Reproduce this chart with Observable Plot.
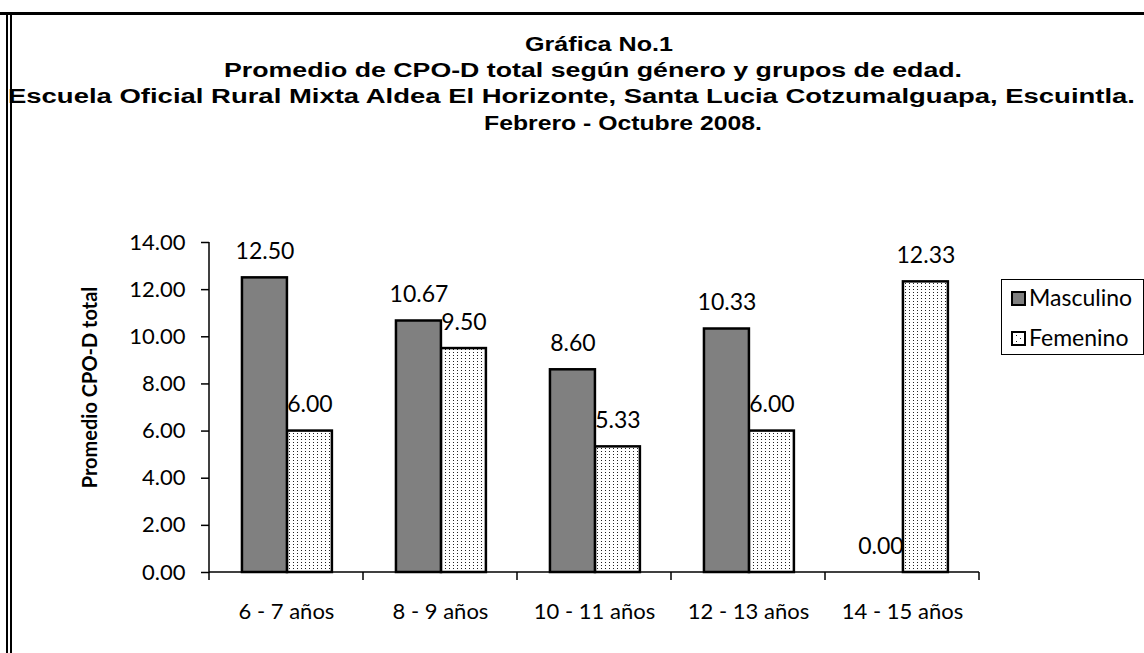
<!DOCTYPE html>
<html>
<head>
<meta charset="utf-8">
<script src="https://cdn.jsdelivr.net/npm/d3@7"></script>
<script src="https://cdn.jsdelivr.net/npm/@observablehq/plot@0.6"></script>
<style>
  html, body { margin: 0; padding: 0; background: #fff; }
  #wrap { position: relative; width: 1144px; height: 653px; overflow: hidden; background: #fff; }
  #titles { position: relative; height: 180px; }
  .tl { position: absolute; white-space: nowrap; font-family: "Liberation Sans", Arial, sans-serif; font-weight: bold; font-size: 20px; line-height: 20px; color: #000; transform-origin: 0 0; }
  #chart { position: absolute; left: 0; top: 180px; }
  .frameTop { position: absolute; left: 0; top: 12px; width: 1144px; height: 3px; background: #000; }
  .frameL1 { position: absolute; left: 6px; top: 12px; width: 2px; height: 641px; background: #000; }
  .frameL2 { position: absolute; left: 10px; top: 12px; width: 2px; height: 641px; background: #000; }
  #legend { position: absolute; left: 1001px; top: 279px; width: 143px; height: 76px; border: 1px solid #000; box-sizing: border-box; font-family: Lato, sans-serif; font-size: 23px; line-height: 23px; }
  .sw { position: absolute; width: 15px; height: 15px; border: 2px solid #000; box-sizing: border-box; }
  .lt { position: absolute; white-space: nowrap; }
</style>
</head>
<body>
<div id="wrap">
  <div id="titles"></div>
  <div id="chart"></div>
  <div class="frameTop"></div>
  <div class="frameL1"></div>
  <div class="frameL2"></div>
  <div id="legend"></div>
</div>
<script>
// ---- Data ----
const titleLines = [
  "Gráfica No.1",
  "Promedio de CPO-D total según género y grupos de edad.",
  "Escuela Oficial Rural Mixta Aldea El Horizonte, Santa Lucia Cotzumalguapa, Escuintla.",
  "Febrero - Octubre 2008."
];
const categories = ["6 - 7 años", "8 - 9 años", "10 - 11 años", "12 - 13 años", "14 - 15 años"];
const series = ["Masculino", "Femenino"];
const masculino = [12.50, 10.67, 8.60, 10.33, 0.00];
const femenino = [6.00, 9.50, 5.33, 6.00, 12.33];
const yTicks = [0, 2, 4, 6, 8, 10, 12, 14];
const yLabel = "Promedio CPO-D total";

// ---- Titles (each line stretched to its extent in the original) ----
const titleLeft = [525, 224, 8, 484];
const titleRight = [673, 962, 1135, 762];
const titleBaselines = [51, 77, 103, 130];
const titlesEl = document.getElementById("titles");
titleLines.forEach((t, i) => {
  const d = document.createElement("div");
  d.className = "tl";
  d.textContent = t;
  d.style.left = titleLeft[i] + "px";
  d.style.top = (titleBaselines[i] - 17) + "px";
  titlesEl.appendChild(d);
  const natural = d.getBoundingClientRect().width;
  const target = titleRight[i] - titleLeft[i];
  d.style.transform = "scaleX(" + (target / natural) + ")";
});

// ---- Table ----
const rowsM = categories.map((c, i) => ({grupo: c, genero: series[0], valor: masculino[i]}));
const rowsF = categories.map((c, i) => ({grupo: c, genero: series[1], valor: femenino[i]}));

const W = 1144, H = 473;
const mL = 209, mR = 165, mT = 62, mB = 81;
const bw = (W - mL - mR) / categories.length;   // band width
const barW = 0.292 * bw;                          // width of one bar
const gStart = 0.214 * bw;                        // left offset of the group in its band
const insM = {insetLeft: gStart, insetRight: bw - gStart - barW};
const insF = {insetLeft: gStart + barW, insetRight: bw - gStart - 2 * barW};
const dxM = gStart + barW / 2 - bw / 2;
const dxF = gStart + 1.5 * barW - bw / 2;

function defsMark() {
  const svg = d3.create("svg:defs");
  const p = svg.append("pattern").attr("id", "dots").attr("patternUnits", "userSpaceOnUse")
    .attr("width", 4).attr("height", 3);
  p.append("rect").attr("width", 4).attr("height", 3).attr("fill", "#fff");
  p.append("rect").attr("x", 1).attr("y", 1).attr("width", 1).attr("height", 1).attr("fill", "#222");
  return svg.node();
}

function axisLines(index, scales) {
  const x = scales.x, y = scales.y;
  const [x0, x1] = x.range();
  const y0 = y(0), yTop = y(yTicks[yTicks.length - 1]);
  const g = d3.create("svg:g").attr("stroke", "#000").attr("stroke-width", 1.5).attr("fill", "none");
  g.append("line").attr("x1", x0).attr("x2", x0).attr("y1", y0 + 0.5).attr("y2", yTop);
  g.append("line").attr("x1", x0).attr("x2", x1).attr("y1", y0).attr("y2", y0);
  const edges = categories.map(c => x(c)).concat([x1]);
  edges.forEach(e => g.append("line").attr("x1", e).attr("x2", e).attr("y1", y0).attr("y2", y0 + 8));
  return g.node();
}

const fmt = d => d.toFixed(2);

const chart = Plot.plot({
  width: W, height: H,
  marginLeft: mL, marginRight: mR, marginTop: mT, marginBottom: mB,
  style: {fontFamily: "Lato, sans-serif", fontSize: "20px", color: "#000", background: "transparent", overflow: "visible"},
  x: {domain: categories, padding: 0},
  y: {domain: [0, 14]},
  marks: [
    defsMark,
    Plot.axisY({ticks: yTicks, tickSize: 8, tickPadding: 16, tickFormat: fmt, label: null, fontSize: 22, strokeWidth: 1.5}),
    Plot.axisX({tickSize: 0, tickPadding: 31, label: null, fontSize: 22}),
    Plot.text([yLabel], {frameAnchor: "left", text: d => d, rotate: -90, textAnchor: "middle", dx: -119, dy: -20, fontWeight: "bold", fontSize: 20}),
    Plot.text(rowsM, {x: "grupo", y: "valor", text: d => fmt(d.valor), dx: dxM, dy: -19, lineAnchor: "bottom", fontSize: 23}),
    Plot.text(rowsF, {x: "grupo", y: "valor", text: d => fmt(d.valor), dx: dxF, dy: -19, lineAnchor: "bottom", fontSize: 23}),
    Plot.barY(rowsF, {x: "grupo", y: "valor", fill: "url(#dots)", stroke: "#000", strokeWidth: 2.5, ...insF}),
    Plot.barY(rowsM, {x: "grupo", y: "valor", fill: "#808080", stroke: "#000", strokeWidth: 2.5, ...insM}),
    axisLines
  ]
});
document.getElementById("chart").appendChild(chart);

// ---- Legend ----
const legend = document.getElementById("legend");
const legFill = ["#808080", null];
series.forEach((s, i) => {
  const sw = document.createElement("div");
  sw.className = "sw";
  sw.style.left = "9px";
  sw.style.top = (11 + i * 40) + "px";
  if (legFill[i]) sw.style.background = legFill[i];
  else {
    sw.style.background = "#fff";
    sw.innerHTML = '<svg width="11" height="11" style="display:block"><rect x="3" y="2" width="1" height="1" fill="#222"/><rect x="7" y="5" width="1" height="1" fill="#222"/><rect x="3" y="8" width="1" height="1" fill="#222"/></svg>';
  }
  legend.appendChild(sw);
  const t = document.createElement("div");
  t.className = "lt";
  t.textContent = s;
  t.style.left = "27px";
  t.style.top = (6 + i * 40) + "px";
  legend.appendChild(t);
});
</script>
</body>
</html>
